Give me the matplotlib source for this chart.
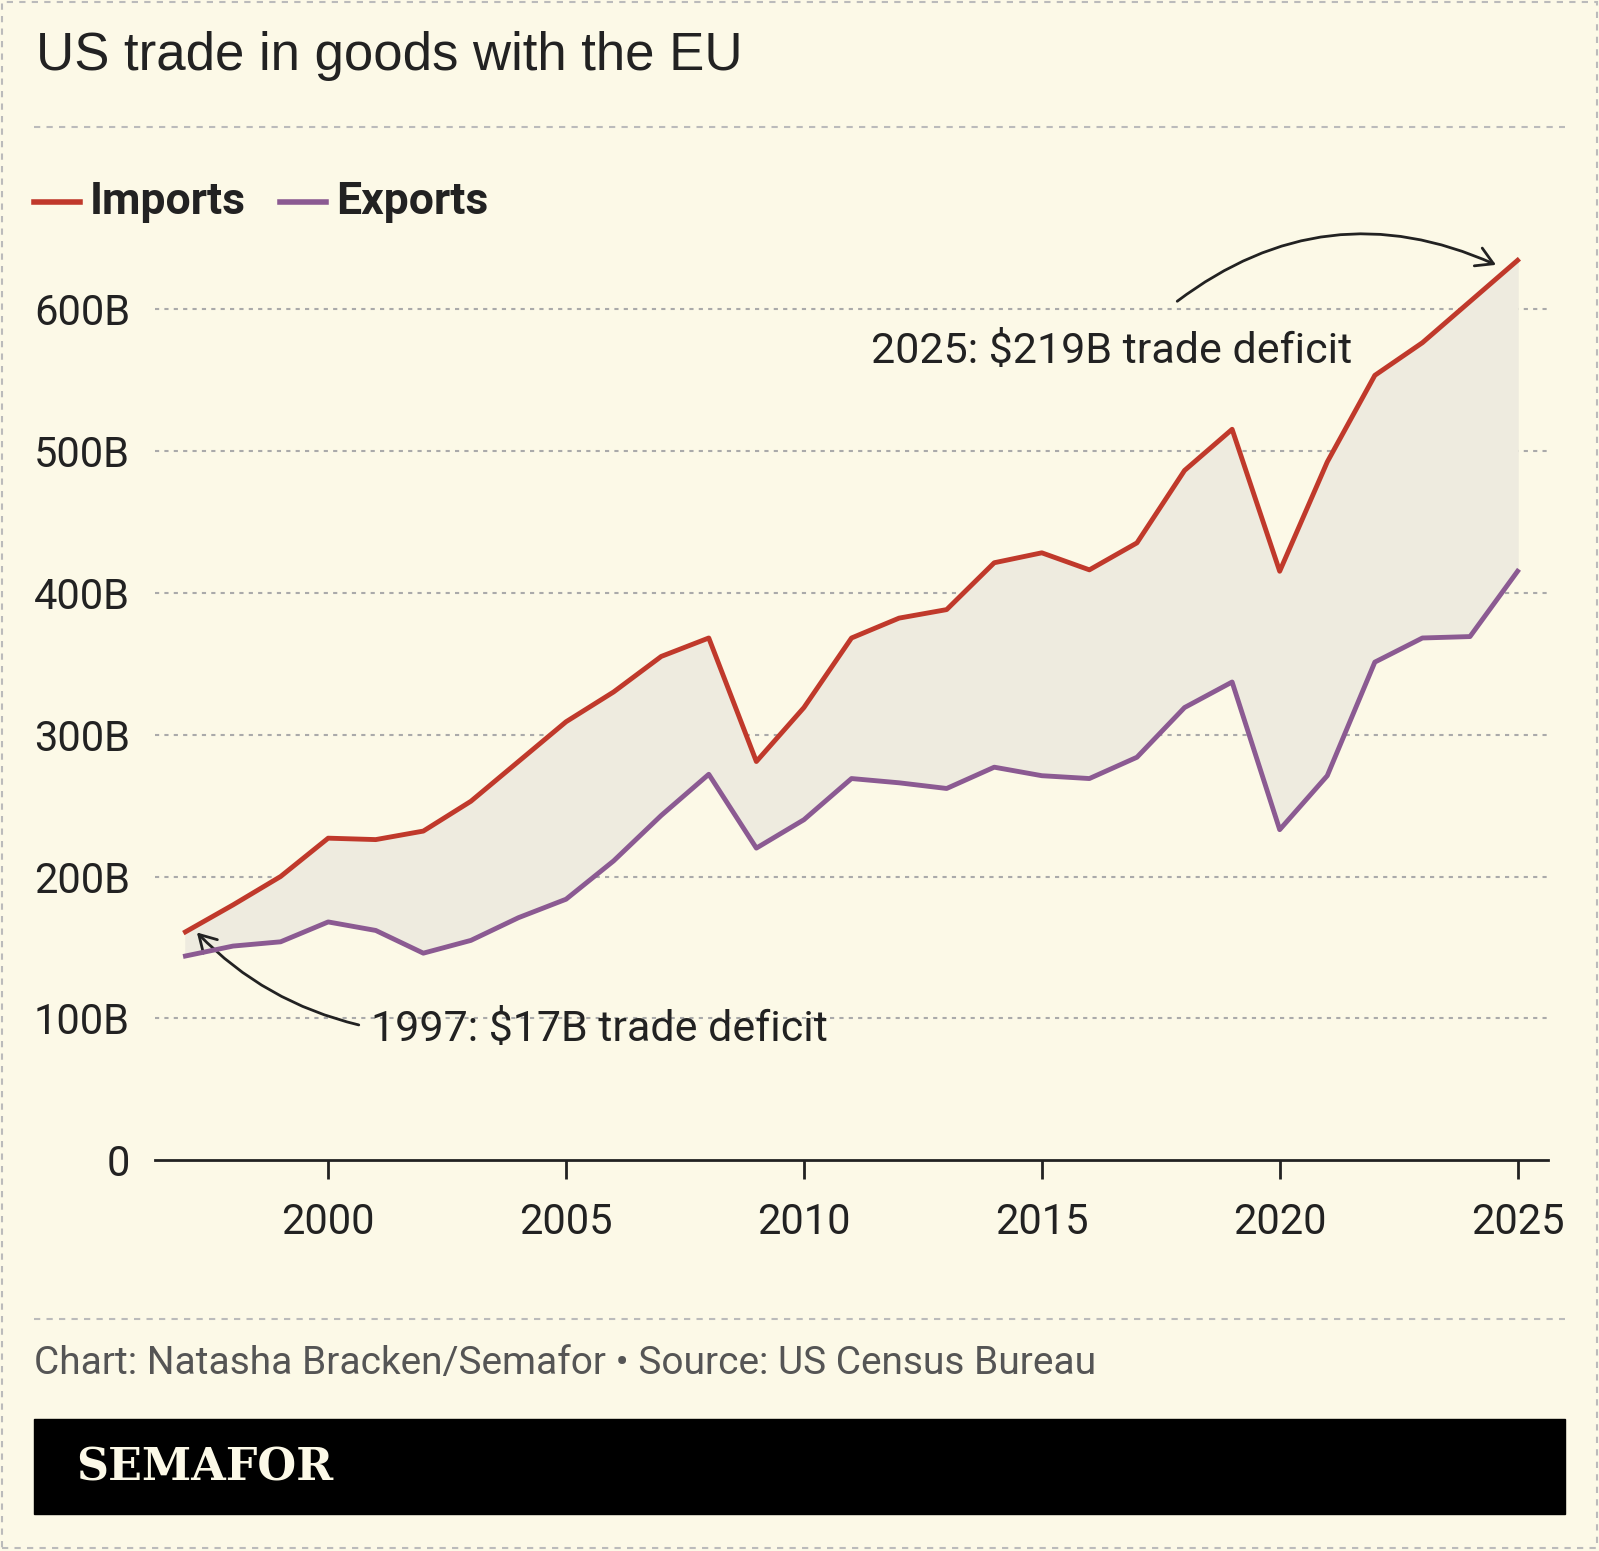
import matplotlib
matplotlib.use("Agg")
import matplotlib.pyplot as plt
from matplotlib.patches import Rectangle, FancyArrowPatch

years = list(range(1997, 2026))
imports = [161,180,200,227,226,232,253,281,309,330,355,368,281,319,368,382,388,421,428,416,435,486,515,415,492,553,576,605,634]
exports = [144,151,154,168,162,146,155,171,184,211,243,272,220,240,269,266,262,277,271,269,284,319,337,233,271,351,368,369,415]
yticks = [0,100,200,300,400,500,600]
ylabels = ["0","100B","200B","300B","400B","500B","600B"]
xticks = [2000,2005,2010,2015,2020,2025]

BG = "#fcf9e7"
RED = "#c0392b"
PURPLE = "#8b5a92"
plt.rcParams['font.family'] = ['Roboto', 'DejaVu Sans']

fig = plt.figure(figsize=(15.99, 15.51), dpi=100, facecolor=BG)
W, H = 1568, 1521
def fx(px): return px / W
def fy(py): return 1 - py / H

ax = fig.add_axes([fx(152), fy(1138), fx(1518) - fx(152), fy(240) - fy(1138)])
ax.set_facecolor(BG)
ax.set_xlim(1996.36, 2025.64)
ax.set_ylim(0, 645)
ax.fill_between(years, exports, imports, color="#eeebdf", zorder=1)
ax.plot(years, imports, color=RED, lw=3.5, zorder=3)
ax.plot(years, exports, color=PURPLE, lw=3.5, zorder=3)
for y in yticks[1:]:
    ax.axhline(y, color="#aaaaaa", lw=1.5, ls=(0, (2, 2.5)), zorder=0)
for s in ["top", "right", "left"]:
    ax.spines[s].set_visible(False)
ax.spines["bottom"].set_linewidth(2)
ax.spines["bottom"].set_color("#222222")
ax.set_yticks(yticks)
ax.set_yticklabels(ylabels)
ax.set_xticks(xticks)
ax.tick_params(axis="y", length=0, labelsize=30, pad=18, colors="#222222")
ax.tick_params(axis="x", length=14, width=2, labelsize=30, pad=16, colors="#222222")

ax.text(2011.4, 570, "2025: $219B trade deficit", fontsize=31, color="#222222", ha="left", va="center")
a1 = FancyArrowPatch((2017.8, 604), (2024.6, 630), connectionstyle="arc3,rad=-0.3",
                     arrowstyle="->,head_length=12,head_width=7", lw=2, color="#222222", clip_on=False)
ax.add_patch(a1)
ax.text(2000.9, 92, "1997: $17B trade deficit", fontsize=31, color="#222222", ha="left", va="center")
a2 = FancyArrowPatch((2000.7, 95), (1997.2, 162), connectionstyle="arc3,rad=-0.15",
                     arrowstyle="->,head_length=12,head_width=7", lw=2, color="#222222", clip_on=False)
ax.add_patch(a2)

fig.text(fx(35), fy(55), "US trade in goods with the EU", fontsize=38, color="#222222",
         family=['Liberation Sans', 'DejaVu Sans'], va="center")
for py in (125, 1293):
    fig.add_artist(plt.Line2D([fx(33), fx(1535)], [fy(py), fy(py)], color="#bbbbbb", lw=1.5, ls=(0, (3, 3))))
fig.add_artist(plt.Line2D([fx(33), fx(78)], [fy(198), fy(198)], color=RED, lw=4))
fig.text(fx(88), fy(198), "Imports", fontsize=32, fontweight="bold", color="#222222", va="center")
fig.add_artist(plt.Line2D([fx(275), fx(320)], [fy(198), fy(198)], color=PURPLE, lw=4))
fig.text(fx(330), fy(198), "Exports", fontsize=32, fontweight="bold", color="#222222", va="center")

fig.text(fx(33), fy(1337), "Chart: Natasha Bracken/Semafor \u2022 Source: US Census Bureau", fontsize=28,
         color="#555555", va="center")
fig.add_artist(Rectangle((fx(33), fy(1485)), fx(1535) - fx(33), fy(1392) - fy(1485), color="black",
                         transform=fig.transFigure))
fig.text(fx(75), fy(1440), "SEMAFOR", fontsize=32, fontweight="bold", color="#fcf9e7",
         family=['DejaVu Serif'], va="center")
fig.add_artist(Rectangle((fx(2), fy(1518)), fx(1564), fy(2) - fy(1518), fill=False, ec="#bbbbbb",
                         lw=1.5, ls=(0, (3, 3)), transform=fig.transFigure))
fig.savefig("out.png", dpi=100, facecolor=BG)
